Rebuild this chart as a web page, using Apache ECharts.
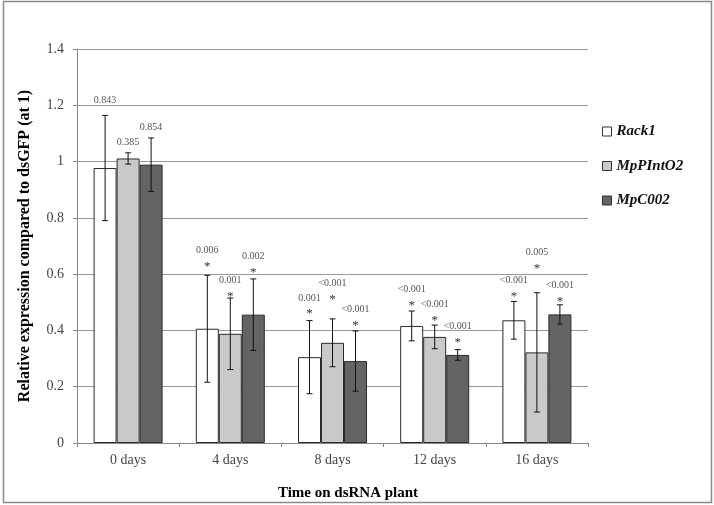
<!DOCTYPE html>
<html><head><meta charset="utf-8">
<script src="https://cdn.jsdelivr.net/npm/echarts@6/dist/echarts.min.js"></script>
<style>html,body{margin:0;padding:0;background:#fff}#c{width:714px;height:505px}</style>
</head><body><div id="c"></div>
<script>
var categories = ['0 days', '4 days', '8 days', '12 days', '16 days'];
var seriesNames = ['Rack1', 'MpPIntO2', 'MpC002'];
var rack1 = [0.977, 0.406, 0.305, 0.416, 0.436];
var mpPIntO2 = [1.011, 0.388, 0.356, 0.377, 0.322];
var mpC002 = [0.989, 0.456, 0.291, 0.313, 0.457];
var rack1Err = [0.187, 0.190, 0.130, 0.053, 0.067];
var mpPIntO2Err = [0.020, 0.127, 0.085, 0.042, 0.212];
var mpC002Err = [0.095, 0.127, 0.107, 0.019, 0.034];
var rack1P = ['0.843', '0.006', '0.001', '<0.001', '<0.001'];
var mpPIntO2P = ['0.385', '0.001', '<0.001', '<0.001', '0.005'];
var mpC002P = ['0.854', '0.002', '<0.001', '<0.001', '<0.001'];
var rack1Sig = [false, true, true, true, true];
var mpPIntO2Sig = [false, true, true, true, true];
var mpC002Sig = [false, true, true, true, true];
// y-value at which each significance mark sits
var rack1Mark = [1.172, 0.638, 0.469, 0.498, 0.532];
var mpPIntO2Mark = [1.021, 0.532, 0.520, 0.447, 0.632];
var mpC002Mark = [1.074, 0.617, 0.429, 0.368, 0.514];

var values = [rack1, mpPIntO2, mpC002];
var errs = [rack1Err, mpPIntO2Err, mpC002Err];
var pvals = [rack1P, mpPIntO2P, mpC002P];
var sigs = [rack1Sig, mpPIntO2Sig, mpC002Sig];
var marks = [rack1Mark, mpPIntO2Mark, mpC002Mark];
var colors = ['#ffffff', '#c8c9cb', '#636466'];
var BAR_W = 23;
var FONT = '"Liberation Serif", "Times New Roman", serif';

var errData = [];
for (var s = 0; s < 3; s++) {
  for (var i = 0; i < categories.length; i++) {
    errData.push([i, values[s][i], errs[s][i], s, marks[s][i], pvals[s][i], sigs[s][i] ? 1 : 0]);
  }
}

var series = seriesNames.map(function (n, s) {
  return {
    name: n, type: 'bar', data: values[s], barWidth: BAR_W, barGap: '0%',
    itemStyle: { color: colors[s], borderColor: '#2a2a2a', borderWidth: 1 },
    z: 2
  };
});
series.push({
  type: 'custom', name: 'err', data: errData, z: 5,
  renderItem: function (params, api) {
    var ci = api.value(0), v = api.value(1), e = api.value(2), s = api.value(3), m = api.value(4);
    var d = errData[params.dataIndex];
    var p0 = api.coord([ci, v]);
    var x = p0[0] + (s - 1) * BAR_W;
    var yt = api.coord([ci, v + e])[1];
    var yb = api.coord([ci, v - e])[1];
    var ym = api.coord([ci, m])[1];
    var st = { stroke: '#111', lineWidth: 1 };
    var children = [
      { type: 'line', shape: { x1: x, y1: yt, x2: x, y2: yb }, style: st },
      { type: 'line', shape: { x1: x - 3, y1: yt, x2: x + 3, y2: yt }, style: st },
      { type: 'line', shape: { x1: x - 3, y1: yb, x2: x + 3, y2: yb }, style: st }
    ];
    if (d[6]) {
      children.push({ type: 'text', style: { text: '*', x: x, y: ym + 3, align: 'center', verticalAlign: 'middle', font: '13px ' + FONT, fill: '#333' } });
    }
    children.push({ type: 'text', style: { text: d[5], x: x, y: ym - 13, align: 'center', verticalAlign: 'middle', font: '10px ' + FONT, fill: '#555' } });
    return { type: 'group', children: children };
  }
});

var chart = echarts.init(document.getElementById('c'));
chart.setOption({
  animation: false,
  backgroundColor: '#fff',
  grid: { left: 77, right: 126, top: 49, bottom: 62 },
  legend: {
    data: seriesNames, orient: 'vertical', left: 597, top: 119, itemGap: 19.5,
    icon: 'rect', itemWidth: 9, itemHeight: 9,
    itemStyle: { borderColor: '#333', borderWidth: 1 },
    textStyle: { fontFamily: FONT, fontSize: 15, fontWeight: 'bold', fontStyle: 'italic', color: '#111' }
  },
  xAxis: {
    type: 'category', data: categories,
    axisLine: { lineStyle: { color: '#888', width: 1 } },
    axisTick: { show: true, length: 4, lineStyle: { color: '#888' } },
    axisLabel: { fontFamily: FONT, fontSize: 14, color: '#444', margin: 10 }
  },
  yAxis: {
    type: 'value', min: 0, max: 1.4, interval: 0.2,
    axisLine: { show: true, lineStyle: { color: '#888', width: 1 } },
    axisTick: { show: true, length: 4, lineStyle: { color: '#888' } },
    splitLine: { lineStyle: { color: '#9a9a9a', width: 1 } },
    axisLabel: { fontFamily: FONT, fontSize: 14, color: '#444', margin: 13,
      formatter: function (v) { return String(Math.round(v * 10) / 10); } }
  },
  graphic: [
    { type: 'rect', shape: { x: 3.5, y: 1.5, width: 708, height: 501 }, style: { fill: 'none', stroke: '#8a8a8a', lineWidth: 1.5 }, silent: true },
    { type: 'text', x: 25, y: 246, rotation: Math.PI / 2,
      style: { text: 'Relative expression compared to dsGFP (at 1)', align: 'center', verticalAlign: 'middle', font: 'bold 16px ' + FONT, fill: '#000' } },
    { type: 'text', x: 348, y: 493,
      style: { text: 'Time on dsRNA plant', align: 'center', verticalAlign: 'middle', font: 'bold 15px ' + FONT, fill: '#000' } }
  ],
  series: series
});
</script>
</body></html>
